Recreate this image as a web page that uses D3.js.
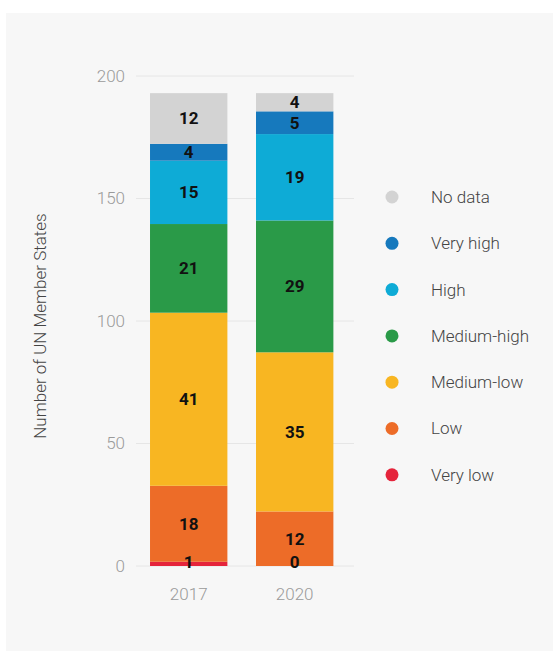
<!DOCTYPE html>
<html><head><meta charset="utf-8">
<script src="https://cdn.jsdelivr.net/npm/d3@7"></script>
<style>
html,body{margin:0;padding:0;background:#fff;}
svg{display:block;font-family:Roboto,"Noto Sans",sans-serif;}
</style></head>
<body><svg id="chart" width="560" height="656"></svg>
<script>
const years = ["2017", "2020"];
const categories = ["Very low", "Low", "Medium-low", "Medium-high", "High", "Very high", "No data"];
const colors = ["#e5243b", "#ed6c28", "#f8b622", "#2a9a48", "#0eabd6", "#1679bd", "#d3d3d3"];
const counts2017 = [1, 18, 41, 21, 15, 4, 12];
const counts2020 = [0, 12, 35, 29, 19, 5, 4];
const unMemberStates = 193;
const yTicks = [0, 50, 100, 150, 200];

const series = {"2017": counts2017, "2020": counts2020};

const svg = d3.select("#chart");
svg.append("rect").attr("x", 6).attr("y", 13).attr("width", 547).attr("height", 638).attr("fill", "#f7f7f7");

const y = d3.scaleLinear().domain([0, 200]).range([566, 76]);
const x = d3.scaleBand().domain(years).range([121.4, 362]).padding(0.27);

svg.append("g").selectAll("line").data(yTicks).join("line")
  .attr("x1", 136).attr("x2", 354)
  .attr("y1", d => y(d)).attr("y2", d => y(d))
  .attr("stroke", "#e6e6e6").attr("stroke-width", 1);

svg.append("g").selectAll("text").data(yTicks).join("text")
  .attr("x", 125).attr("y", d => y(d)).attr("dy", "0.35em")
  .attr("text-anchor", "end").attr("font-size", 17).attr("font-weight", 300)
  .attr("fill", "#9a9a9a").text(d => d);

svg.append("text")
  .attr("transform", `translate(46,${y(100)+5}) rotate(-90)`)
  .attr("text-anchor", "middle").attr("font-size", 17).attr("font-weight", 300)
  .attr("fill", "#444").text("Number of UN Member States");

years.forEach(yr => {
  const vals = series[yr];
  const total = d3.sum(vals);
  const k = unMemberStates / total;
  let cum = 0;
  const segs = vals.map((v, i) => {
    const s = {i, v, y0: cum * k, y1: (cum + v) * k};
    cum += v;
    return s;
  });
  const g = svg.append("g");
  g.selectAll("rect").data(segs).join("rect")
    .attr("x", x(yr)).attr("width", x.bandwidth())
    .attr("y", d => y(d.y1)).attr("height", d => y(d.y0) - y(d.y1))
    .attr("fill", d => colors[d.i]);
  g.selectAll("text").data(segs).join("text")
    .attr("x", x(yr) + x.bandwidth() / 2)
    .attr("y", d => Math.min(y((d.y0 + d.y1) / 2), 562))
    .attr("dy", "0.35em").attr("text-anchor", "middle")
    .attr("font-size", 17).attr("font-weight", 700).attr("fill", "#111")
    .text(d => d.v);
});

svg.append("g").selectAll("text").data(years).join("text")
  .attr("x", d => x(d) + x.bandwidth() / 2).attr("y", 594).attr("dy", "0.35em")
  .attr("text-anchor", "middle").attr("font-size", 17).attr("font-weight", 300)
  .attr("fill", "#9a9a9a").text(d => d);

const legendItems = categories.map((c, i) => ({c, col: colors[i]})).reverse();
const lg = svg.append("g").selectAll("g").data(legendItems).join("g")
  .attr("transform", (d, i) => `translate(392,${197 + i * 46.3})`);
lg.append("circle").attr("r", 6.5).attr("fill", d => d.col);
lg.append("text").attr("x", 39).attr("dy", "0.35em").attr("font-size", 17)
  .attr("font-weight", 300).attr("fill", "#444").text(d => d.c);
</script></body></html>
